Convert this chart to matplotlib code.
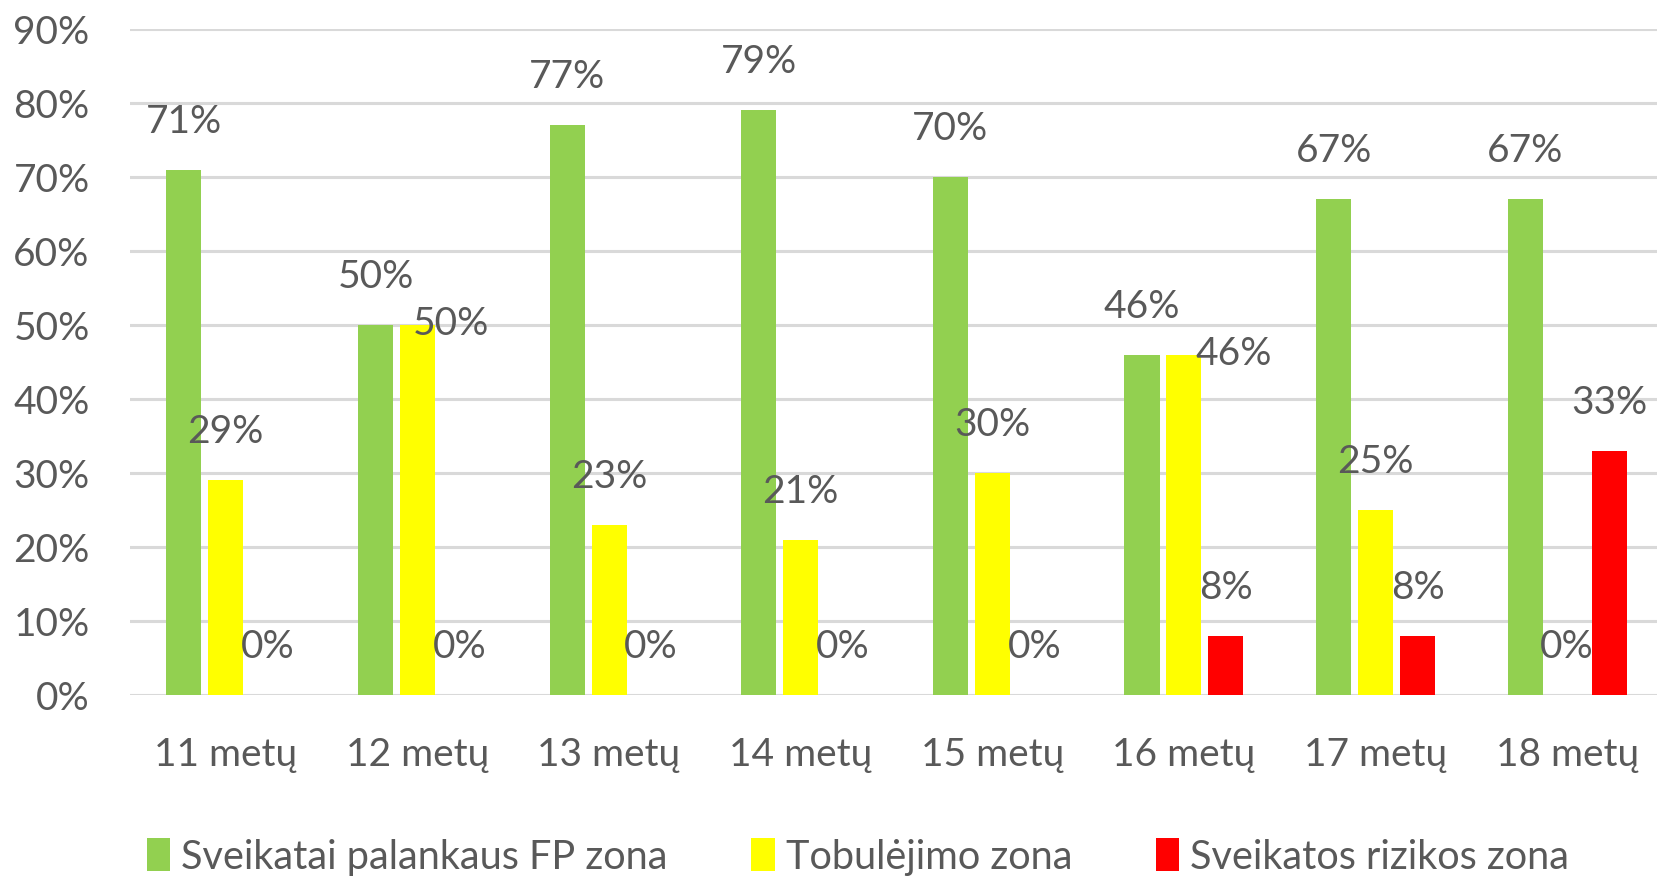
import matplotlib.pyplot as plt
import numpy as np

# --- data ---
categories = ["11 metų", "12 metų", "13 metų", "14 metų", "15 metų", "16 metų", "17 metų", "18 metų"]
series_names = ["Sveikatai palankaus FP zona", "Tobulėjimo zona", "Sveikatos rizikos zona"]
green_vals = [71, 50, 77, 79, 70, 46, 67, 67]
yellow_vals = [29, 50, 23, 21, 30, 46, 25, 0]
red_vals = [0, 0, 0, 0, 0, 8, 8, 33]
y_ticks = [0, 10, 20, 30, 40, 50, 60, 70, 80, 90]

colors = ["#92D050", "#FFFF00", "#FF0000"]
text_color = "#595959"
grid_color = "#D9D9D9"

plt.rcParams['font.family'] = ['Lato', 'DejaVu Sans']

fig = plt.figure(figsize=(16.58, 8.80), dpi=100)
# axes placed to match the reference pixel layout
ax = fig.add_axes([130 / 1658, 185 / 880, 1533 / 1658, 666 / 880])

x = np.arange(len(categories))
bar_w = 0.183
step = 0.219

# label offsets (points) for labels that were moved by hand in the original
moved = {(1, 1): (24, -34), (1, 5): (36, -34)}

all_vals = [green_vals, yellow_vals, red_vals]
for s, vals in enumerate(all_vals):
    pos = x + (s - 1) * step
    bars = ax.bar(pos, vals, width=bar_w, color=colors[s], label=series_names[s], zorder=3)
    for i, (b, v) in enumerate(zip(bars, vals)):
        dx, dy = moved.get((s, i), (0, 0))
        ax.annotate(f"{v}%", (b.get_x() + b.get_width() / 2, v),
                    xytext=(dx, 34.5 + dy), textcoords="offset points",
                    ha="center", va="center", fontsize=28, color=text_color, zorder=4)

ax.set_xlim(-0.5, len(categories) - 0.5)
ax.set_ylim(0, 90)
ax.set_yticks(y_ticks)
ax.set_yticklabels([f"{t}%" for t in y_ticks])
ax.set_xticks(x)
ax.set_xticklabels(categories)
ax.yaxis.grid(True, color=grid_color, linewidth=2.2, zorder=0)
ax.set_axisbelow(True)
for sp in ax.spines.values():
    sp.set_visible(False)
ax.tick_params(axis="y", length=0, pad=29, labelsize=28, labelcolor=text_color)
ax.tick_params(axis="x", length=0, pad=30, labelsize=28, labelcolor=text_color)

leg = fig.legend(loc="center", bbox_to_anchor=(858 / 1658, 23 / 880), ncol=3,
                 frameon=False, fontsize=28.5, labelcolor=text_color,
                 handlelength=0.6, handleheight=0.9, handletextpad=0.28,
                 columnspacing=2.1)

fig.savefig("out.png", dpi=100)
